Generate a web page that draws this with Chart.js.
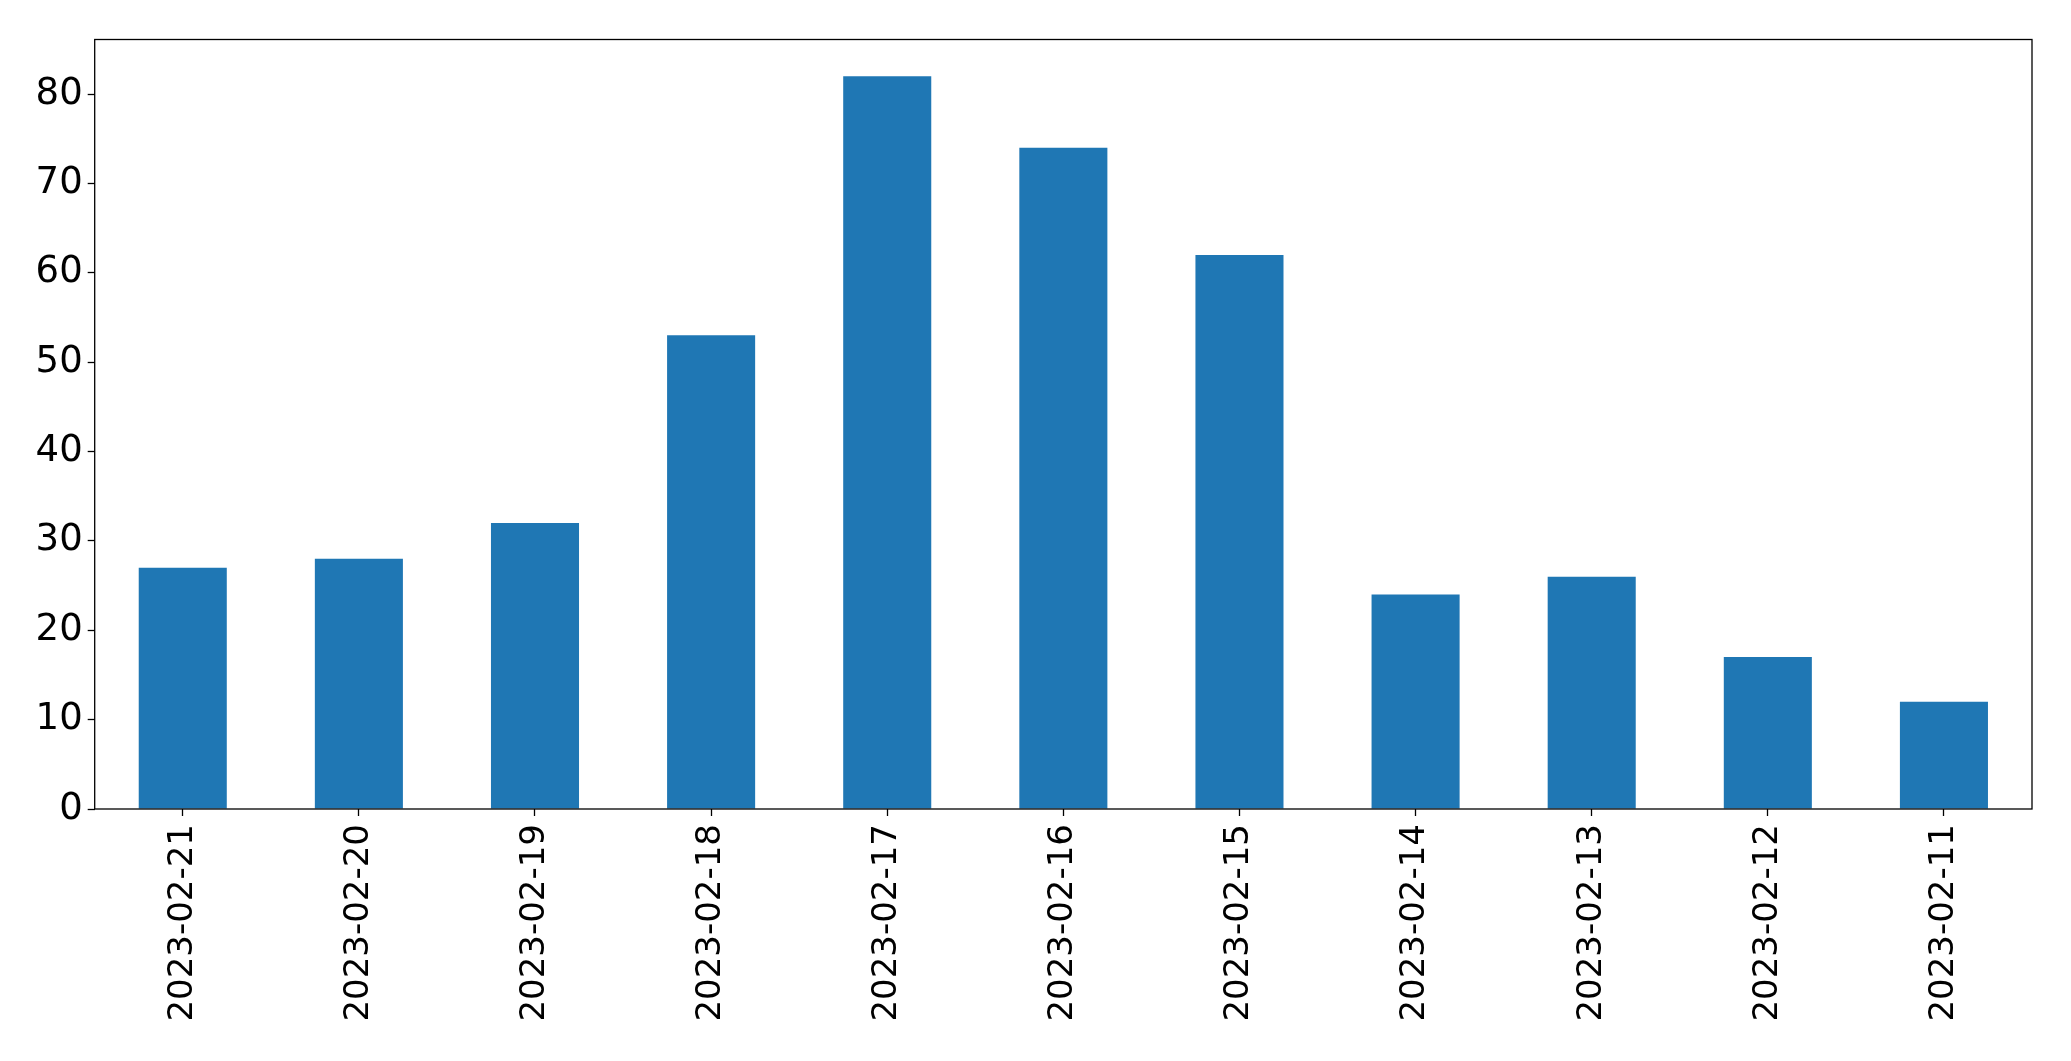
<!DOCTYPE html>
<html>
<head>
<meta charset="utf-8">
<script src="https://cdn.jsdelivr.net/npm/chart.js@4"></script>
<style>
  html, body { margin: 0; padding: 0; background: #fff; }
  canvas { display: block; }
</style>
</head>
<body>
<canvas id="chart" width="2071" height="1061"></canvas>
<script>
// categorias (fechas) y valores de las barras
const dates = [
  "2023-02-21", "2023-02-20", "2023-02-19", "2023-02-18", "2023-02-17", "2023-02-16",
  "2023-02-15", "2023-02-14", "2023-02-13", "2023-02-12", "2023-02-11"
];
const counts = [27, 28, 32, 53, 82, 74, 62, 24, 26, 17, 12];
const yMax = 86.1;
const yStep = 10;

// marco negro alrededor del area del grafico
const framePlugin = {
  id: "frame",
  afterDraw(chart) {
    const { ctx, chartArea } = chart;
    ctx.save();
    ctx.strokeStyle = "#000";
    ctx.lineWidth = 1.3;
    ctx.strokeRect(chartArea.left, chartArea.top, chartArea.right - chartArea.left, chartArea.bottom - chartArea.top);
    ctx.restore();
  },
};

const fontY = { family: "'DejaVu Sans', sans-serif", size: 37 };
const fontX = { family: "'DejaVu Sans', sans-serif", size: 34 };

new Chart(document.getElementById("chart").getContext("2d"), {
  type: "bar",
  data: {
    labels: dates,
    datasets: [
      {
        data: counts,
        backgroundColor: "#1f77b4",
        categoryPercentage: 1,
        barPercentage: 0.5,
      },
    ],
  },
  options: {
    responsive: false,
    animation: false,
    layout: { padding: { top: 39.5, right: 39, left: 0, bottom: 0 } },
    plugins: { legend: { display: false }, tooltip: { enabled: false } },
    scales: {
      x: {
        offset: true,
        grid: { offset: false, drawOnChartArea: false, tickLength: 7, tickColor: "#000", tickWidth: 1.3 },
        border: { display: false },
        ticks: { color: "#000", font: fontX, minRotation: 90, maxRotation: 90, autoSkip: false, padding: 8 },
        afterFit: (scale) => { scale.height = 1061 - 809; },
      },
      y: {
        min: 0,
        max: yMax,
        grid: { drawOnChartArea: false, tickLength: 7, tickColor: "#000", tickWidth: 1.3 },
        border: { display: false },
        ticks: { color: "#000", font: fontY, stepSize: yStep, includeBounds: false, padding: 5 },
        afterFit: (scale) => { scale.width = 94.7; },
      },
    },
  },
  plugins: [framePlugin],
});
</script>
</body>
</html>
